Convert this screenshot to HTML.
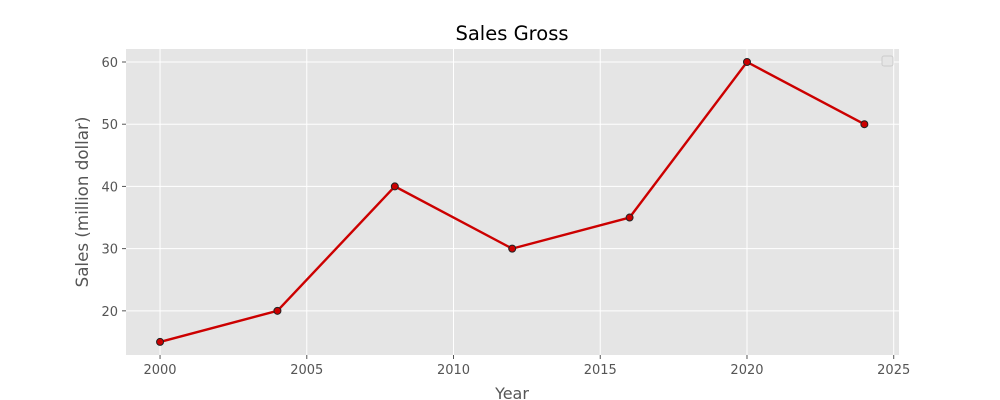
<!DOCTYPE html>
<html><head><meta charset="utf-8"><style>
body{margin:0;background:#fff;}
svg{display:block;font-family:"DejaVu Sans","Liberation Sans",sans-serif;}
</style></head><body>
<svg id="chart" width="1000" height="400">
<rect x="126" y="49" width="773" height="306" fill="#e5e5e5"/>
<g id="grid"></g><g id="ticks"></g><g id="series"></g>
<text x="512" y="40" font-size="19.5" text-anchor="middle" fill="#000">Sales Gross</text>
<text x="512" y="399" font-size="16" text-anchor="middle" fill="#555">Year</text>
<text transform="translate(88,202) rotate(-90)" font-size="16.7" text-anchor="middle" fill="#555">Sales (million dollar)</text>
<rect x="882" y="56" width="11" height="10" fill="#e5e5e5" stroke="#ccc" stroke-width="1" rx="2"/>
</svg>
<script>
const years=[2000,2004,2008,2012,2016,2020,2024];
const sales=[15,20,40,30,35,60,50];
const xTicks=[2000,2005,2010,2015,2020,2025];
const yTicks=[20,30,40,50,60];
const X0=126,X1=899,Y0=49,Y1=355,xmin=1998.84,xmax=2025.18,ymin=12.9,ymax=62.09;
const sx=v=>X0+(v-xmin)/(xmax-xmin)*(X1-X0);
const sy=v=>Y1-(v-ymin)/(ymax-ymin)*(Y1-Y0);
const NS="http://www.w3.org/2000/svg";
function mk(t,a,p){const e=document.createElementNS(NS,t);for(const k in a)e.setAttribute(k,a[k]);p.appendChild(e);return e;}
const g=document.getElementById('grid'),tk=document.getElementById('ticks'),s=document.getElementById('series');
xTicks.forEach(v=>{const x=sx(v);
const l=mk('line',{x1:x,x2:x,y1:Y0,y2:Y1,stroke:'#fff','stroke-width':1},g);


const m=mk('line',{x1:x,x2:x,y1:Y1,y2:Y1+4,stroke:'#555'},tk);


const t=mk('text',{x:x,y:Y1+19,'font-size':13,'text-anchor':'middle',fill:'#555'},tk);t.textContent=v;

});
yTicks.forEach(v=>{const y=sy(v);
const l=mk('line',{x1:X0,x2:X1,y1:y,y2:y,stroke:'#fff','stroke-width':1},g);


const m=mk('line',{x1:X0-4,x2:X0,y1:y,y2:y,stroke:'#555'},tk);


const t=mk('text',{x:X0-8,y:y+5,'font-size':13,'text-anchor':'end',fill:'#555'},tk);t.textContent=v;

});
const pts=years.map((y,i)=>sx(y)+','+sy(sales[i])).join(' ');
const pl=mk('polyline',{points:pts,fill:'none',stroke:'#cc0000','stroke-width':2.4},s);


years.forEach((y,i)=>{const c=mk('circle',{cx:sx(y),cy:sy(sales[i]),r:3.5,fill:'#cc0000',stroke:'#222','stroke-width':1},s);

});
</script>
</body></html>
